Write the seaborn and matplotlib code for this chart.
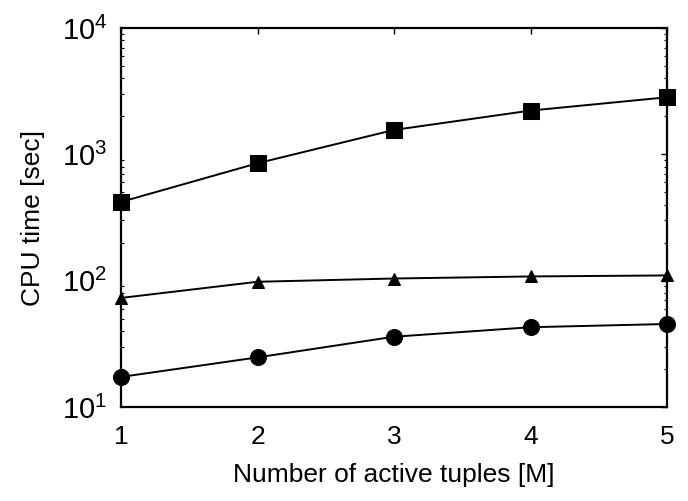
import matplotlib
matplotlib.use("Agg")
import matplotlib.pyplot as plt
import seaborn as sns
import pandas as pd
import numpy as np
from matplotlib.ticker import LogLocator, FixedLocator, NullFormatter

x_vals = [1, 2, 3, 4, 5]
square_vals = [420, 850, 1560, 2220, 2830]
triangle_vals = [73, 98, 104, 108, 110]
circle_vals = [17.3, 24.7, 36, 42.8, 45.4]
x_ticks = [1, 2, 3, 4, 5]
x_label = "Number of active tuples [M]"
y_label = "CPU time [sec]"

sns.set_theme(style="white")
plt.rcParams['font.family'] = ['Liberation Sans', 'DejaVu Sans']
plt.rcParams['mathtext.fontset'] = 'custom'
plt.rcParams['mathtext.rm'] = 'Liberation Sans'
plt.rcParams['mathtext.it'] = 'Liberation Sans:italic'
plt.rcParams['mathtext.bf'] = 'Liberation Sans:bold'

fig = plt.figure(figsize=(6.88, 5.01), dpi=100)
ax = fig.add_axes([121/688, 1-407/501, (667-121)/688, (407-28)/501])

series = [
    (square_vals, 's', 11.5),
    (triangle_vals, '^', 8),
    (circle_vals, 'o', 11.5),
]
for vals, mk, ms in series:
    df = pd.DataFrame({"x": x_vals, "y": vals})
    sns.lineplot(data=df, x="x", y="y", ax=ax, color="black", linewidth=1.4,
                 marker=mk, markersize=ms, markeredgecolor="black",
                 markerfacecolor="black", clip_on=False, zorder=3)

ax.set_yscale("log")
ax.set_xlim(1, 5)
ax.set_ylim(10, 1e4)
ax.xaxis.set_major_locator(FixedLocator(x_ticks))
ax.yaxis.set_major_locator(LogLocator(base=10, numticks=10))
ax.yaxis.set_minor_locator(LogLocator(base=10, subs=np.arange(2, 10), numticks=10))
ax.yaxis.set_minor_formatter(NullFormatter())

for s in ax.spines.values():
    s.set_color("black")
    s.set_linewidth(1.6)

ax.tick_params(axis="both", which="major", direction="in", length=4, width=1,
               colors="black", top=True, right=True)
ax.tick_params(axis="x", which="major", pad=13, labelsize=19)
ax.tick_params(axis="y", which="major", pad=10, labelsize=21)
ax.tick_params(axis="y", which="minor", direction="in", length=2, width=0.8,
               left=True, right=True, colors="black")

ax.set_xlabel(x_label, fontsize=19, labelpad=10, color="black")
ax.set_ylabel(y_label, fontsize=19, labelpad=12, color="black")

fig.savefig("out.png", dpi=100, facecolor="white")
